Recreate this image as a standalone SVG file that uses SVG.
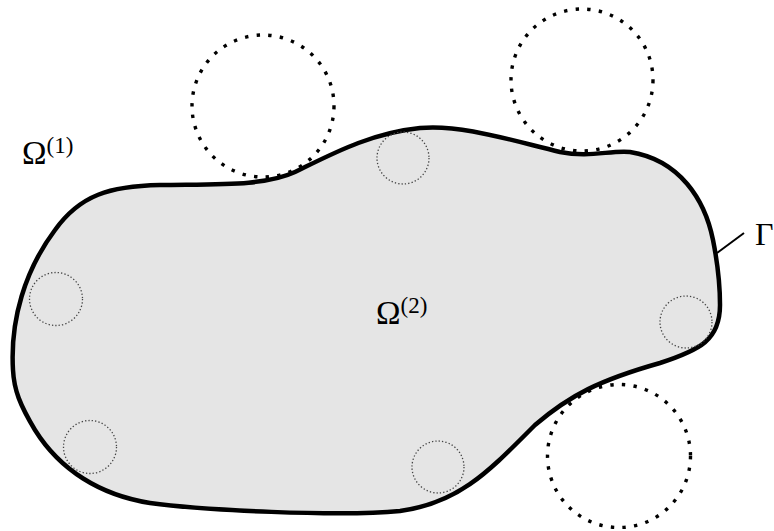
<svg xmlns="http://www.w3.org/2000/svg" width="774" height="531" viewBox="0 0 774 531">
<style>
.big{fill:none;stroke:#000;stroke-width:3.4;stroke-dasharray:3.4 8.3}
.small{fill:none;stroke:#444;stroke-width:1.3;stroke-dasharray:1.3 2.1}
.lbl{font-family:"Liberation Serif","DejaVu Serif",serif;fill:#000}
</style>
<rect width="774" height="531" fill="#fff"/>
<g id="domain">
<path d="M 13,370 C 10,320 25,270 55,230 C 80,195 110,186 160,185 C 220,184 265,186 295,172 C 330,155 370,133 420,128 C 460,124 510,140 560,152 C 590,158 610,150 630,152 C 680,160 705,200 713,240 C 718,265 720,290 720,305 C 720,340 700,350 660,363 C 600,380 570,395 535,425 C 490,470 460,503 400,511 C 340,517 200,510 150,503 C 100,495 60,470 35,430 C 20,405 14,390 13,370 Z" fill="#e5e5e5" stroke="#000" stroke-width="4.5"/>
</g>
<g id="small-circles">
<circle class="small" cx="403" cy="158" r="26"/>
<circle class="small" cx="56" cy="299" r="26.5"/>
<circle class="small" cx="90" cy="447" r="26.5"/>
<circle class="small" cx="438" cy="467" r="26"/>
<circle class="small" cx="686" cy="322" r="26"/>
</g>
<g id="big-circles">
<circle class="big" cx="263" cy="106" r="71"/>
<circle class="big" cx="582" cy="80" r="71"/>
<circle class="big" cx="619" cy="456" r="71.5"/>
</g>
<g id="connectors">
<line x1="717" y1="253" x2="744" y2="233" stroke="#000" stroke-width="2"/>
</g>
<g id="labels">
<text class="lbl" x="22" y="164" font-size="33">Ω<tspan font-size="23" dy="-11">(1)</tspan></text>
<text class="lbl" x="376" y="324" font-size="33">Ω<tspan font-size="23" dy="-11">(2)</tspan></text>
<text class="lbl" x="755" y="245" font-size="32">Γ</text>
</g>
</svg>
